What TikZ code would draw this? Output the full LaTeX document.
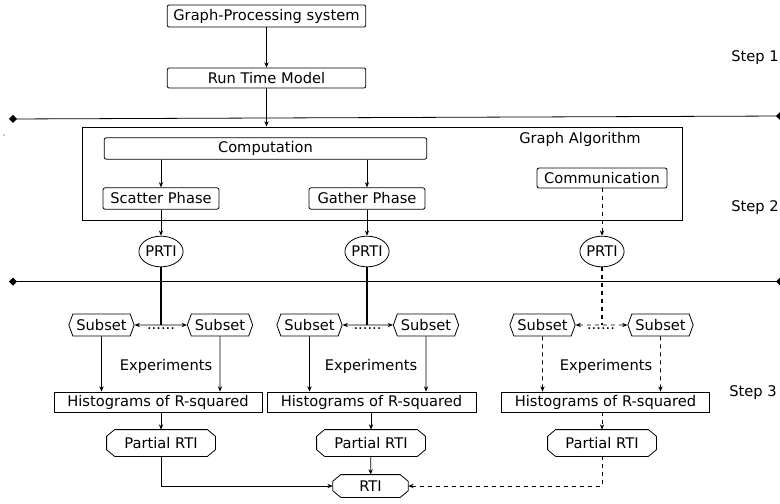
\documentclass[tikz,border=0pt]{standalone}
\usepackage{fontspec}
\setmainfont{DejaVu Sans}
\usetikzlibrary{
	arrows.meta,
	positioning,
	shapes.geometric,
	shapes.symbols
}
\tikzset{
	rbox/.style={draw, rounded corners=1.5pt, inner sep=1pt},
	sbox/.style={draw, inner sep=1pt, minimum height=15pt},
	prti/.style={draw, ellipse, inner sep=0pt, minimum width=33pt, minimum height=23pt},
	subset/.style={draw, signal, signal to=west and east, signal pointer angle=140,
		inner sep=1pt, minimum width=49pt, minimum height=16.5pt},
	partial/.style={inner sep=1pt, minimum width=81pt, minimum height=19.5pt},
	sepline/.style={{Diamond[length=6pt,width=6pt]}-{Diamond[length=6pt,width=6pt]}},
	thickv/.style={line width=1.1pt}
}

\begin{document}
\begin{tikzpicture}[x=0.75pt, y=-0.75pt, font=\fontsize{11}{13}\selectfont,
		line width=0.6pt, >={Stealth[length=4pt,width=3.2pt]}]
	\useasboundingbox (0,0) rectangle (780,503);
	
	% 第一步
	\node[rbox, minimum width=149pt, minimum height=16.5pt] (gps) at (266.5,16) {Graph-Processing system};
	\node[rbox, minimum width=149pt, minimum height=15pt] (rtm) at (266.5,78) {Run Time Model};
	\node (step1) at (755,58) {Step 1};
	\draw[->] (gps) -- (rtm);
	
	% 分隔线
	\draw[sepline] (9,119) -- (784,116);
	\fill (4,135) circle (0.5pt);
	
	% 第二步: 图算法
	\node[draw, inner sep=0pt, minimum width=450pt, minimum height=69.75pt] (algo) at (382,173.5) {};
	\node (algoname) at (580,139) {Graph Algorithm};
	\draw[->] (rtm) -- (rtm |- algo.north);
	
	\node[rbox, minimum width=242pt, minimum height=16pt] (comp) at (265.5,148.5) {Computation};
	\node[rbox, minimum width=87pt, minimum height=16pt] (scatter) at (161,198.5) {Scatter Phase};
	\node[rbox, minimum width=87pt, minimum height=16pt] (gather) at (367,198.5) {Gather Phase};
	\node[rbox, minimum width=97.5pt, minimum height=15pt] (commu) at (602,178) {Communication};
	\node (step2) at (755,208) {Step 2};
	
	\draw[->] (scatter |- comp.south) -- (scatter);
	\draw[->] (gather |- comp.south) -- (gather);
	
	% PRTI
	\node[prti] (prti1) at (161,251.5) {PRTI};
	\node[prti] (prti2) at (367,251.5) {PRTI};
	\node[prti] (prti3) at (602,251.5) {PRTI};
	\draw[->] (scatter) -- (prti1);
	\draw[->] (gather) -- (prti2);
	\draw[->, dashed] (commu) -- (prti3);
	
	% 分隔线
	\draw[sepline] (9,281.5) -- (784,281.5);
	
	% 第三步: 子集
	\node[subset] (sub1) at (101.5,325) {Subset};
	\node[subset] (sub2) at (220,325) {Subset};
	\node[subset] (sub3) at (309.5,325) {Subset};
	\node[subset] (sub4) at (426,325) {Subset};
	\node[subset] (sub5) at (542.5,325) {Subset};
	\node[subset] (sub6) at (660.5,325) {Subset};
	
	\draw[thickv] (prti1) -- (prti1 |- sub1);
	\draw[thickv] (prti2) -- (prti2 |- sub3);
	\draw[thickv, dashed] (prti3) -- (prti3 |- sub5);
	\draw[<->] (sub1) -- (sub2);
	\draw[<->] (sub3) -- (sub4);
	\draw[<->, dashed] (sub5) -- (sub6);
	\node[inner sep=0pt] (dots1) at (161,329) {......};
	\node[inner sep=0pt] (dots2) at (367.5,329) {......};
	\node[inner sep=0pt] (dots3) at (601,329) {......};
	
	\node (exp1) at (166,366) {Experiments};
	\node (exp2) at (371,366) {Experiments};
	\node (exp3) at (606,366) {Experiments};
	
	% 直方图
	\node[sbox, minimum width=156pt] (hist1) at (158,402) {Histograms of R-squared};
	\node[sbox, minimum width=156.75pt] (hist2) at (371.5,402) {Histograms of R-squared};
	\node[sbox, minimum width=156pt] (hist3) at (605.5,402) {Histograms of R-squared};
	\node (step3) at (753,393) {Step 3};
	
	\draw[->] (sub1) -- (sub1 |- hist1.north);
	\draw[->] (sub2) -- (sub2 |- hist1.north);
	\draw[->] (sub3) -- (sub3 |- hist2.north);
	\draw[->] (sub4) -- (sub4 |- hist2.north);
	\draw[->, dashed] (sub5) -- (sub5 |- hist3.north);
	\draw[->, dashed] (sub6) -- (sub6 |- hist3.north);
	
	% 部分 RTI 与 RTI
	\node[partial] (part1) at (161,443) {Partial RTI};
	\node[partial] (part2) at (371,443) {Partial RTI};
	\node[partial] (part3) at (602,443) {Partial RTI};
	\node[partial, minimum width=56pt, minimum height=16.5pt] (rti) at (370.5,486) {RTI};
	% 八边形外框
	\foreach \n in {part1,part2,part3,rti}
		\draw ([xshift=6pt]\n.north west) -- ([xshift=-6pt]\n.north east)
			-- ([yshift=-5pt]\n.north east) -- ([yshift=5pt]\n.south east)
			-- ([xshift=-6pt]\n.south east) -- ([xshift=6pt]\n.south west)
			-- ([yshift=5pt]\n.south west) -- ([yshift=-5pt]\n.north west) -- cycle;
	
	\draw[->] (part1 |- hist1.south) -- (part1);
	\draw[->] (part2 |- hist2.south) -- (part2);
	\draw[->, dashed] (part3 |- hist3.south) -- (part3);
	
	\draw[->] (part1) |- (rti);
	\draw[->] (part2) -- (rti);
	\draw[->, dashed] (part3) |- (rti);
\end{tikzpicture}
\end{document}
